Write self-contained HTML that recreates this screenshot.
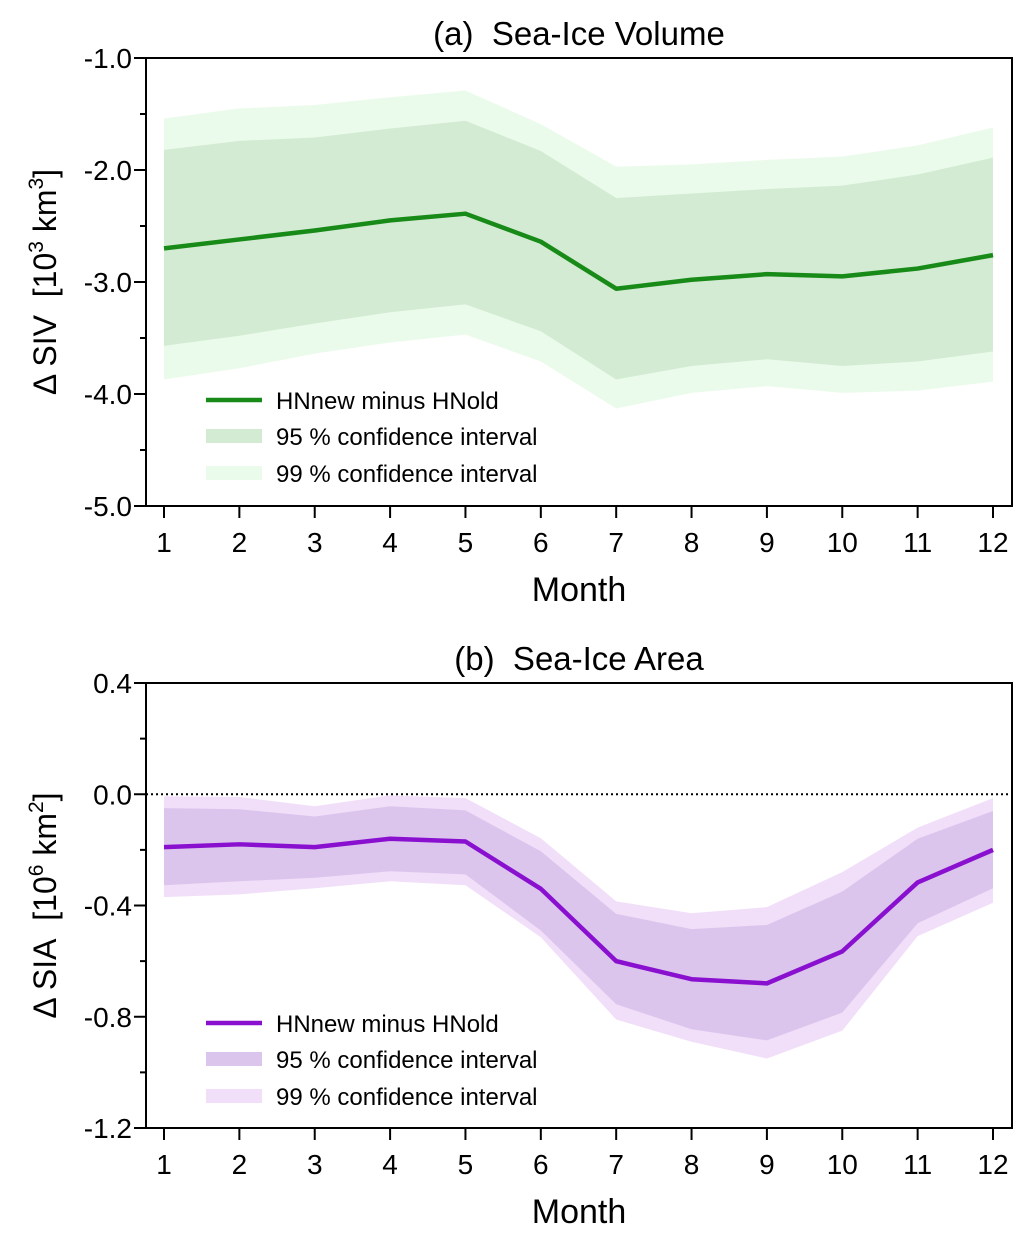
<!DOCTYPE html>
<html><head><meta charset="utf-8"><style>
body{margin:0;background:#fff}
svg{display:block;font-family:"Liberation Sans",Arial,sans-serif}
</style></head><body>
<svg id="chart" width="1033" height="1243" viewBox="0 0 1033 1243" xmlns="http://www.w3.org/2000/svg"></svg>
<script>
const months=[1,2,3,4,5,6,7,8,9,10,11,12];
const sivMean=[-2.70,-2.62,-2.54,-2.45,-2.39,-2.64,-3.06,-2.98,-2.93,-2.95,-2.88,-2.76];
const siv95Up=[-1.82,-1.74,-1.71,-1.63,-1.56,-1.83,-2.25,-2.21,-2.17,-2.14,-2.04,-1.89];
const siv95Lo=[-3.57,-3.48,-3.37,-3.27,-3.20,-3.44,-3.87,-3.75,-3.69,-3.75,-3.71,-3.62];
const siv99Up=[-1.54,-1.45,-1.42,-1.35,-1.29,-1.59,-1.97,-1.95,-1.91,-1.88,-1.78,-1.62];
const siv99Lo=[-3.87,-3.77,-3.64,-3.54,-3.47,-3.71,-4.13,-3.99,-3.93,-3.99,-3.97,-3.89];
const siaMean=[-0.19,-0.18,-0.19,-0.16,-0.17,-0.34,-0.60,-0.665,-0.68,-0.565,-0.317,-0.20];
const sia95Up=[-0.05,-0.054,-0.08,-0.043,-0.058,-0.205,-0.43,-0.485,-0.47,-0.35,-0.16,-0.06];
const sia95Lo=[-0.327,-0.313,-0.30,-0.277,-0.288,-0.49,-0.755,-0.845,-0.885,-0.785,-0.464,-0.338];
const sia99Up=[-0.007,-0.01,-0.043,-0.004,-0.014,-0.158,-0.385,-0.428,-0.406,-0.28,-0.12,-0.014];
const sia99Lo=[-0.37,-0.36,-0.338,-0.313,-0.327,-0.514,-0.81,-0.89,-0.95,-0.85,-0.51,-0.39];
const sivTicks=["-1.0","-2.0","-3.0","-4.0","-5.0"];
const siaTicks=["0.4","0.0","-0.4","-0.8","-1.2"];

const NS="http://www.w3.org/2000/svg";
const svg=document.getElementById('chart');
function mk(tag,attrs,parent,text){const e=document.createElementNS(NS,tag);for(const k in attrs)e.setAttribute(k,attrs[k]);if(text!==undefined)e.textContent=text;(parent||svg).appendChild(e);return e;}

function panel(o){
  const g=mk('g',{});
  
  
  const L=146,R=1012,T=o.top,B=o.bottom;
  const x=m=>164+(m-1)*(993-164)/11;
  const y=v=>T+(o.ymax-v)/(o.ymax-o.ymin)*(B-T);
  const band=(up,lo,fill,nm)=>{
    let d='M'+months.map((m,i)=>x(m)+','+y(up[i])).join('L');
    d+='L'+months.slice().reverse().map((m,j)=>{const i=11-j;return x(m)+','+y(lo[i]);}).join('L')+'Z';
    const p=mk('path',{d:d,fill:fill},g);
    
    
  };
  band(o.u99,o.l99,o.c99,'ci99-band');
  band(o.u95,o.l95,o.c95,'ci95-band');
  if(o.zero){const z=mk('line',{x1:L,x2:R,y1:y(0),y2:y(0),stroke:'#000','stroke-width':2,'stroke-dasharray':'2,3'},g);
    }
  const ln=mk('polyline',{points:months.map((m,i)=>x(m)+','+y(o.mean[i])).join(' '),fill:'none',stroke:o.cl,'stroke-width':4.5,'stroke-linejoin':'round'},g);
  
  const fr=mk('rect',{x:L,y:T,width:R-L,height:B-T,fill:'none',stroke:'#000','stroke-width':2},g);
  
  const n=o.ticks.length;
  for(let i=0;i<n;i++){
    const v=o.ymax-i*(o.ymax-o.ymin)/(n-1);
    mk('line',{x1:L-12,x2:L,y1:y(v),y2:y(v),stroke:'#000','stroke-width':2},g);
    const t=mk('text',{x:L-14,y:y(v)+10,'font-size':28,'text-anchor':'end'},g,o.ticks[i]);
    
    if(i<n-1){const vm=v-(o.ymax-o.ymin)/(n-1)/2;mk('line',{x1:L-6,x2:L,y1:y(vm),y2:y(vm),stroke:'#000','stroke-width':2},g);}
  }
  months.forEach(m=>{
    mk('line',{x1:x(m),x2:x(m),y1:B,y2:B+12,stroke:'#000','stroke-width':2},g);
    const t=mk('text',{x:x(m),y:B+46,'font-size':28,'text-anchor':'middle'},g,String(m));
    
  });
  const xt=mk('text',{x:579,y:B+95,'font-size':34,'text-anchor':'middle'},g,'Month');
  
  const tt=mk('text',{x:579,y:T-13,'font-size':33,'text-anchor':'middle'},g,o.title);
  
  const yt=mk('text',{transform:`translate(56,${(T+B)/2}) rotate(-90)`,'font-size':32,'text-anchor':'middle'},g);
  
  yt.innerHTML=o.ylab;
  const lg=mk('g',{},g);
  const ly=o.legY;
  mk('line',{x1:206,x2:262,y1:ly,y2:ly,stroke:o.cl,'stroke-width':4.5},lg);
  mk('text',{x:276,y:ly+9,'font-size':24},lg,'HNnew minus HNold');
  mk('rect',{x:206,y:ly+29,width:56,height:14,fill:o.c95},lg);
  mk('text',{x:276,y:ly+45,'font-size':24},lg,'95 % confidence interval');
  mk('rect',{x:206,y:ly+66,width:56,height:14,fill:o.c99},lg);
  mk('text',{x:276,y:ly+82,'font-size':24},lg,'99 % confidence interval');
}
panel({name:'panel-sea-ice-volume',top:58,bottom:506,ymax:-1,ymin:-5,ticks:sivTicks,mean:sivMean,u95:siv95Up,l95:siv95Lo,u99:siv99Up,l99:siv99Lo,
  cl:'#178a17',c95:'#d3ebd3',c99:'#ebfbeb',title:'(a)\u00a0\u00a0Sea-Ice Volume',legY:400,zero:false,
  ylab:'Δ SIV\u00a0\u00a0[10<tspan dy="-13" font-size="21">3</tspan><tspan dy="13"> km</tspan><tspan dy="-13" font-size="21">3</tspan><tspan dy="13">]</tspan>'});
panel({name:'panel-sea-ice-area',top:683,bottom:1128,ymax:0.4,ymin:-1.2,ticks:siaTicks,mean:siaMean,u95:sia95Up,l95:sia95Lo,u99:sia99Up,l99:sia99Lo,
  cl:'#8a10d0',c95:'#dcc5ec',c99:'#f1def9',title:'(b)\u00a0\u00a0Sea-Ice Area',legY:1023,zero:true,
  ylab:'Δ SIA\u00a0\u00a0[10<tspan dy="-13" font-size="21">6</tspan><tspan dy="13"> km</tspan><tspan dy="-13" font-size="21">2</tspan><tspan dy="13">]</tspan>'});
</script>
</body></html>
